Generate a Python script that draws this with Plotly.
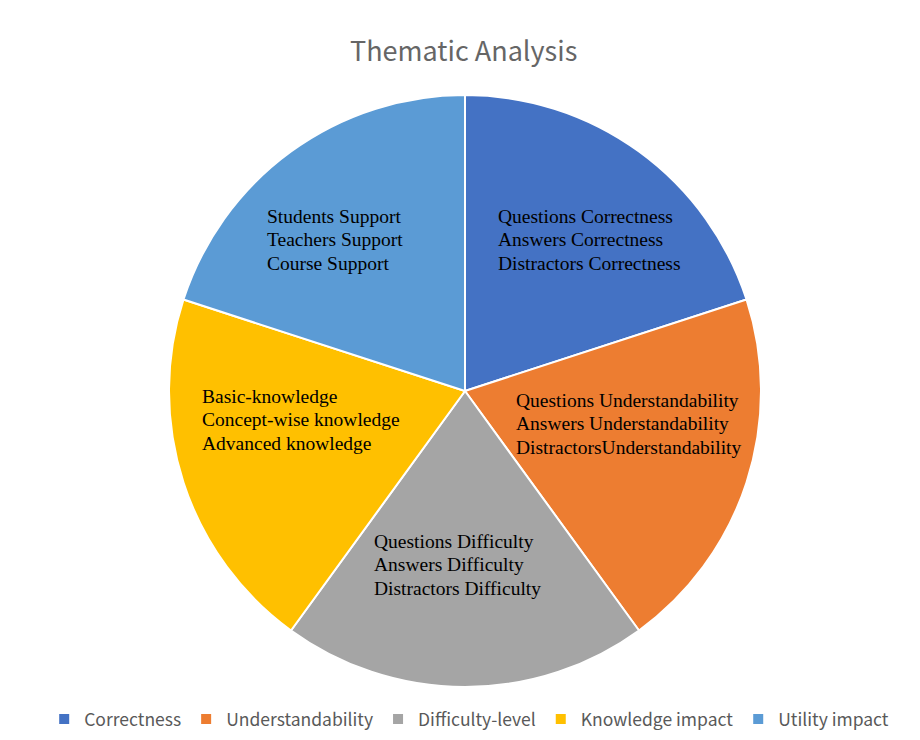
import plotly.graph_objects as go

categories = ["Correctness", "Understandability", "Difficulty-level", "Knowledge impact", "Utility impact"]
values = [1, 1, 1, 1, 1]
colors = ["#4472C4", "#ED7D31", "#A5A5A5", "#FFC000", "#5B9BD5"]
slice_texts = [
    ["Questions Correctness", "Answers Correctness", "Distractors Correctness"],
    ["Questions Understandability", "Answers Understandability", "DistractorsUnderstandability"],
    ["Questions Difficulty", "Answers Difficulty", "Distractors Difficulty"],
    ["Basic-knowledge", "Concept-wise knowledge", "Advanced knowledge"],
    ["Students Support", "Teachers Support", "Course Support"],
]
# label anchor positions (pixels: left x, first-line middle y)
label_pos = [(496, 216), (514, 400), (372, 541), (200, 396), (265, 216)]
line_step = 23.5

W, H = 920, 740
cx, cy, r = 465, 391, 296

fig = go.Figure(go.Pie(
    labels=categories,
    values=values,
    sort=False,
    direction="clockwise",
    rotation=0,
    marker=dict(colors=colors, line=dict(color="white", width=2)),
    textinfo="none",
    hoverinfo="label",
    domain=dict(x=[(cx - r) / W, (cx + r) / W], y=[(H - cy - r) / H, (H - cy + r) / H]),
))

for lines, (px, py) in zip(slice_texts, label_pos):
    for i, line in enumerate(lines):
        fig.add_annotation(
            text=line, x=px / W, y=1 - (py + i * line_step) / H, xref="paper", yref="paper",
            xanchor="left", yanchor="middle", align="left", showarrow=False,
            font=dict(family="Liberation Serif", size=19.5, color="black"),
        )

fig.update_layout(
    width=W, height=H,
    margin=dict(l=0, r=0, t=0, b=0),
    paper_bgcolor="white",
    title=dict(text="Thematic Analysis", x=0.504, xanchor="center", y=1 - 52 / H, yanchor="middle",
               font=dict(family="Noto Sans CJK SC", size=27, color="#666666")),
    legend=dict(orientation="h", x=0.51, xanchor="center", y=1 - 719 / H, yanchor="middle",
                font=dict(family="Noto Sans CJK SC", size=17.5, color="#595959"),
                itemwidth=30, traceorder="normal"),
)

fig.write_html("out.html")
